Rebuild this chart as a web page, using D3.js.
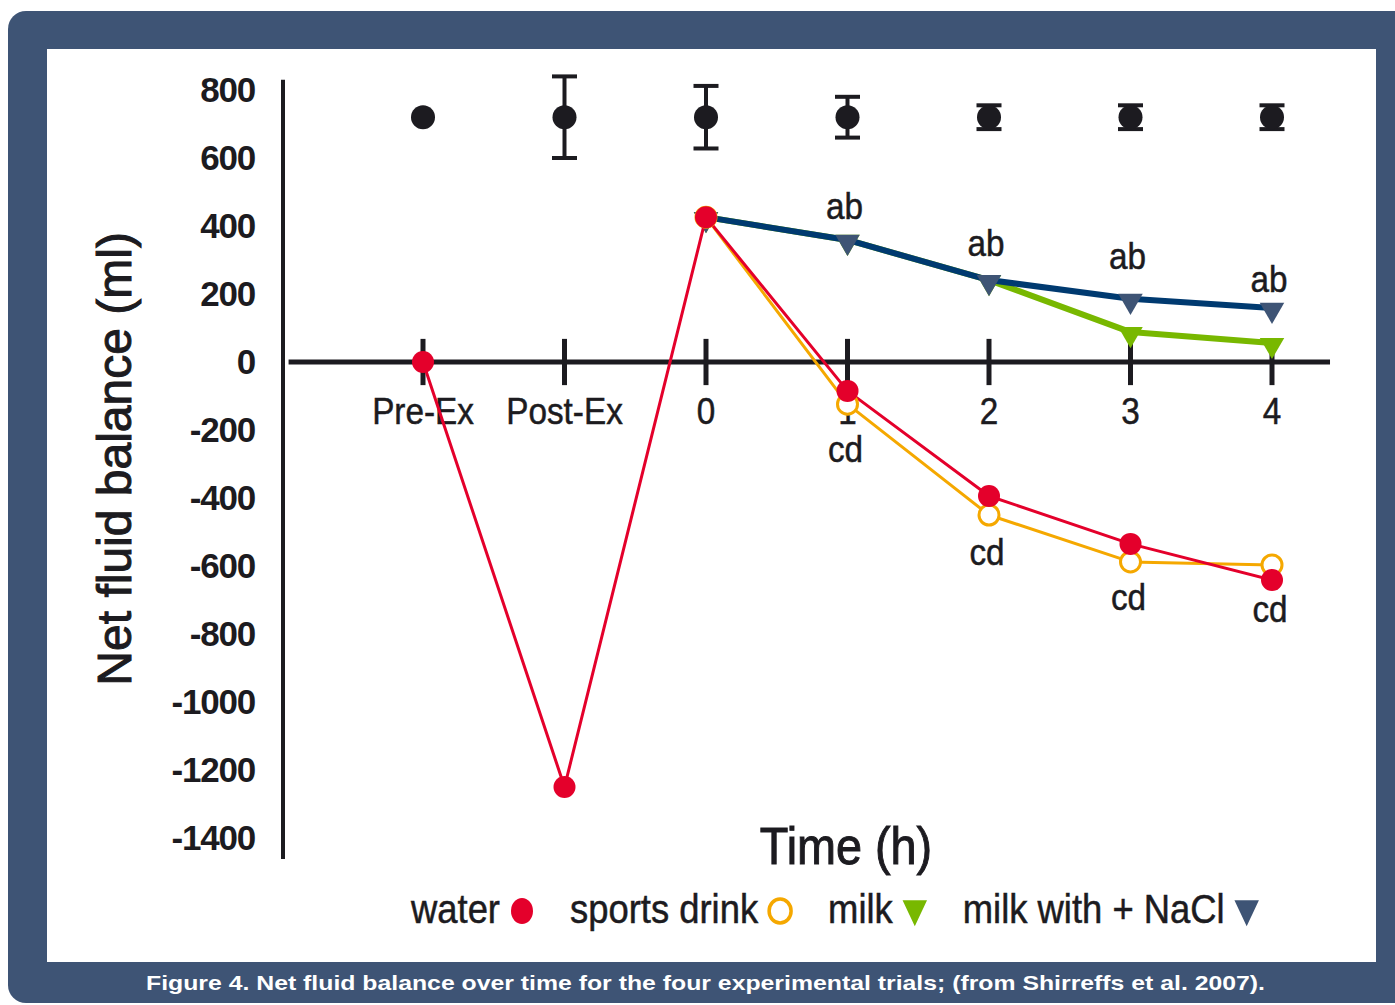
<!DOCTYPE html>
<html>
<head>
<meta charset="utf-8">
<script src="https://cdn.jsdelivr.net/npm/d3@7"></script>
<style>
  html, body { margin: 0; padding: 0; background: #ffffff; }
  svg { display: block; }
</style>
</head>
<body>
<script>
// datos (ml)
const categories = ["Pre-Ex", "Post-Ex", "0", "1", "2", "3", "4"];
const yTicks = [800, 600, 400, 200, 0, -200, -400, -600, -800, -1000, -1200, -1400];

const baseMean = [720, 720, 720, 720, 720, 720, 720];
const baseErr = [0, 120, 92, 60, 35, 35, 35];

const water = [0, -1250, 426, -85, -394, -535, -641];
const sportsDrink = [null, null, 426, -124, -450, -588, -597];
const milk = [null, null, 426, 359, 241, 88, 56];
const milkNaCl = [null, null, 426, 359, 241, 186, 159];

const abCats = ["1", "2", "3", "4"];
const cdCats = ["1", "2", "3", "4"];

const legendLabels = ["water", "sports drink", "milk", "milk with + NaCl"];
const caption = "Figure 4.  Net fluid balance over time for the four experimental trials; (from Shirreffs et al. 2007).";

const WIDTH = 1395;
const HEIGHT = 1005;
const FRAME = "#3e5475";
const RED = "#e4002b";
const ORANGE = "#f5a800";
const GREEN = "#78b800";
const NAVY = "#003a70";
const SLATE = "#3e5475";
const INK = "#1c1b20";
const SANS = "'Liberation Sans', Arial, sans-serif";
const SQUEEZE = 0.9; // no hay fuente condensada, se comprime a mano

const svg = d3.select("body")
    .append("svg")
    .attr("width", WIDTH)
    .attr("height", HEIGHT);

// marco azul y panel blanco
svg.append("rect")
    .attr("x", 8).attr("y", 11)
    .attr("width", WIDTH + 30).attr("height", HEIGHT - 13)
    .attr("rx", 18)
    .attr("fill", FRAME);

svg.append("rect")
    .attr("x", 47).attr("y", 49)
    .attr("width", 1329).attr("height", 913)
    .attr("fill", "#ffffff");

svg.append("text")
    .attr("x", 146).attr("y", 990)
    .attr("fill", "#ffffff")
    .attr("font-family", SANS)
    .attr("font-weight", "bold")
    .attr("font-size", 21)
    .attr("textLength", 1119)
    .attr("lengthAdjust", "spacingAndGlyphs")
    .text(caption);

const x = d3.scalePoint().domain(categories).range([423, 1272]);
const y = d3.scaleLinear().domain([-1400, 800]).range([838, 90]);
const step = x.step();

const chart = svg.append("g");

// texto condensado: se escala en x alrededor del punto de anclaje
function narrowText(sel, px, py, size) {
    return sel
        .attr("transform", (d, i) => `translate(${px(d, i)} ${py(d, i)}) scale(${SQUEEZE} 1)`)
        .attr("fill", INK)
        .attr("stroke", INK).attr("stroke-width", 0.5)
        .attr("font-family", SANS)
        .attr("font-size", size);
}

// ejes
chart.append("line")
    .attr("x1", 283).attr("x2", 283)
    .attr("y1", y(830)).attr("y2", y(-1462))
    .attr("stroke", INK).attr("stroke-width", 4);

chart.append("line")
    .attr("x1", x(categories[0]) - step * 0.95)
    .attr("x2", x(categories[categories.length - 1]) + step * 0.41)
    .attr("y1", y(0)).attr("y2", y(0))
    .attr("stroke", INK).attr("stroke-width", 5);

chart.selectAll("line.tick")
    .data(categories)
    .join("line")
    .attr("class", "tick")
    .attr("x1", (d) => x(d)).attr("x2", (d) => x(d))
    .attr("y1", y(68)).attr("y2", y(-68))
    .attr("stroke", INK).attr("stroke-width", 5);

chart.selectAll("text.xlab")
    .data(categories)
    .join("text")
    .attr("class", "xlab")
    .attr("text-anchor", "middle")
    .call(narrowText, (d) => x(d), () => y(0) + 62, 37)
    .text((d) => d);

chart.selectAll("text.ylab")
    .data(yTicks)
    .join("text")
    .attr("class", "ylab")
    .attr("x", 255)
    .attr("y", (d) => y(d) + 12)
    .attr("text-anchor", "end")
    .attr("fill", INK)
    .attr("font-family", SANS)
    .attr("font-weight", "bold")
    .attr("font-size", 35)
    .attr("letter-spacing", -1.2)
    .text((d) => d);

svg.append("text")
    .attr("transform", `translate(131 ${y(-285)}) rotate(-90)`)
    .attr("text-anchor", "middle")
    .attr("fill", INK)
    .attr("stroke", INK).attr("stroke-width", 1)
    .attr("font-family", SANS)
    .attr("font-size", 48)
    .text("Net fluid balance (ml)");

svg.append("text")
    .attr("text-anchor", "middle")
    .call(narrowText, () => 846, () => 864, 52)
    .attr("stroke-width", 1)
    .text("Time (h)");

// serie de referencia con barras de error
const baseRows = categories.map((c, i) => ({ c: c, m: baseMean[i], e: baseErr[i] }));
const errG = chart.append("g").attr("stroke", INK).attr("stroke-width", 4);
baseRows.filter((d) => d.e > 0).forEach((d) => {
    errG.append("line")
        .attr("x1", x(d.c)).attr("x2", x(d.c))
        .attr("y1", y(d.m + d.e)).attr("y2", y(d.m - d.e));
    [d.m + d.e, d.m - d.e].forEach((v) => {
        errG.append("line")
            .attr("x1", x(d.c) - 12.5).attr("x2", x(d.c) + 12.5)
            .attr("y1", y(v)).attr("y2", y(v));
    });
});
chart.selectAll("circle.base")
    .data(baseRows)
    .join("circle")
    .attr("class", "base")
    .attr("cx", (d) => x(d.c))
    .attr("cy", (d) => y(d.m))
    .attr("r", 12)
    .attr("fill", INK);

function rows(values) {
    return categories.map((c, i) => ({ c: c, v: values[i] })).filter((d) => d.v !== null);
}

const linea = d3.line()
    .x((d) => x(d.c))
    .y((d) => y(d.v));

const tri = d3.symbol().type(d3.symbolTriangle).size(260);
const triLegend = d3.symbol().type(d3.symbolTriangle).size(320);

function drawLine(values, color, width) {
    chart.append("path")
        .datum(rows(values))
        .attr("d", linea)
        .attr("fill", "none")
        .attr("stroke", color)
        .attr("stroke-width", width)
        .attr("stroke-linejoin", "round");
}

function drawTriangles(values, color) {
    chart.append("g")
        .selectAll("path")
        .data(rows(values))
        .join("path")
        .attr("d", tri)
        .attr("transform", (d) => `translate(${x(d.c)} ${y(d.v) + 2}) rotate(180)`)
        .attr("fill", color);
}

drawLine(milk, GREEN, 6);
drawTriangles(milk, GREEN);
drawLine(milkNaCl, NAVY, 6);
drawTriangles(milkNaCl, SLATE);
drawLine(sportsDrink, ORANGE, 3);
drawLine(water, RED, 3);

chart.append("g")
    .selectAll("circle")
    .data(rows(sportsDrink))
    .join("circle")
    .attr("cx", (d) => x(d.c))
    .attr("cy", (d) => y(d.v))
    .attr("r", 10)
    .attr("fill", "#ffffff")
    .attr("stroke", ORANGE)
    .attr("stroke-width", 3);

chart.append("g")
    .selectAll("circle")
    .data(rows(water))
    .join("circle")
    .attr("cx", (d) => x(d.c))
    .attr("cy", (d) => y(d.v))
    .attr("r", 11)
    .attr("fill", RED);

// letras de significancia
const abDy = [-21, -24, -30, -16];
const cdDy = [58, 50, 48, 42];

chart.selectAll("text.ab")
    .data(abCats)
    .join("text")
    .attr("class", "ab")
    .attr("text-anchor", "middle")
    .call(narrowText,
        (d) => x(d) - 3,
        (d, i) => y(milkNaCl[categories.indexOf(d)]) + abDy[i], 37)
    .text("ab");

chart.selectAll("text.cd")
    .data(cdCats)
    .join("text")
    .attr("class", "cd")
    .attr("text-anchor", "middle")
    .call(narrowText,
        (d) => x(d) - 2,
        (d, i) => y(d3.min([water[categories.indexOf(d)], sportsDrink[categories.indexOf(d)]])) + cdDy[i], 37)
    .text("cd");

// leyenda
const LEG_SQ = 0.91;
const legend = svg.append("g").attr("transform", "translate(411 923)");
let lx = 0;
legendLabels.forEach((lab, i) => {
    const t = legend.append("text")
        .attr("transform", `translate(${lx} 0) scale(${LEG_SQ} 1)`)
        .attr("fill", INK)
        .attr("stroke", INK).attr("stroke-width", 0.5)
        .attr("font-family", SANS)
        .attr("font-size", 40)
        .text(lab);
    lx += t.node().getComputedTextLength() * LEG_SQ + 22;
    if (i === 0) {
        legend.append("ellipse").attr("cx", lx).attr("cy", -12).attr("rx", 11).attr("ry", 13).attr("fill", RED);
    } else if (i === 1) {
        legend.append("ellipse").attr("cx", lx).attr("cy", -12).attr("rx", 11).attr("ry", 12)
            .attr("fill", "#ffffff").attr("stroke", ORANGE).attr("stroke-width", 3.5);
    } else {
        legend.append("path").attr("d", triLegend)
            .attr("transform", `translate(${lx} -14) rotate(180) scale(0.9 1.1)`)
            .attr("fill", i === 2 ? GREEN : SLATE);
    }
    lx += 48;
});
</script>
</body>
</html>
